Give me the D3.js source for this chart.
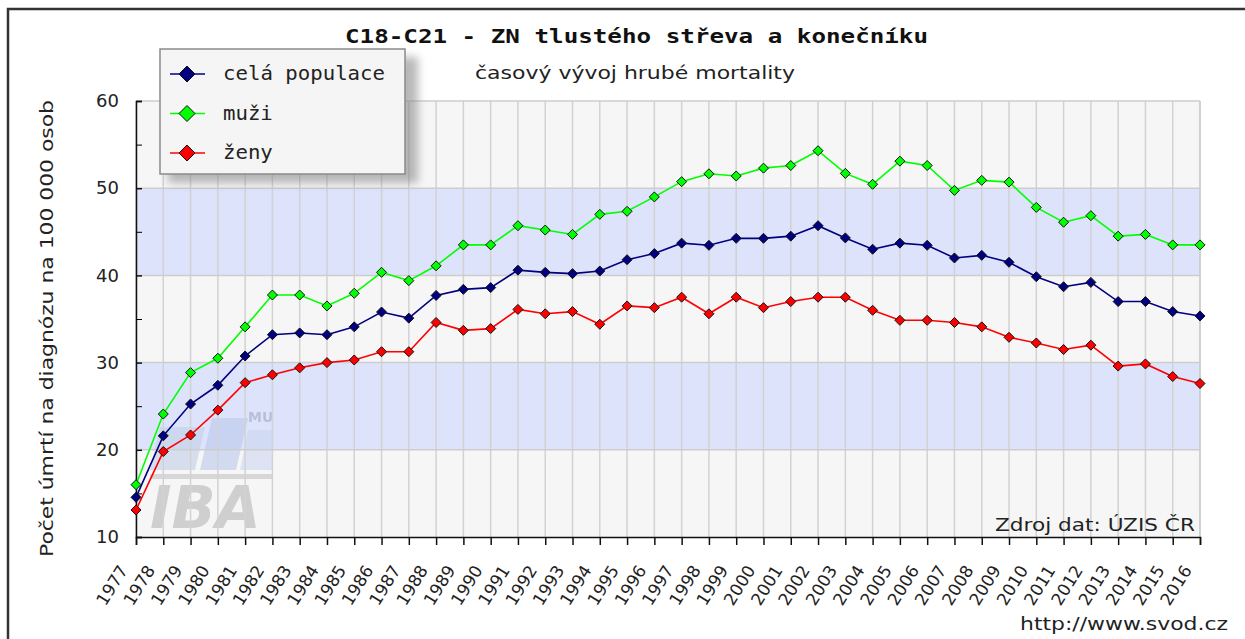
<!DOCTYPE html>
<html><head><meta charset="utf-8">
<script src="https://cdn.jsdelivr.net/npm/d3@7"></script>
<style>body{margin:0;background:#fff}svg{display:block}</style>
</head><body>
<svg id="c" width="1245" height="639"></svg>
<script>
const years = d3.range(1977, 2017);
const celaPopulace = [14.55,21.6,25.25,27.4,30.76,33.2,33.4,33.2,34.1,35.8,35.1,37.7,38.4,38.6,40.6,40.35,40.2,40.5,41.8,42.5,43.7,43.45,44.25,44.25,44.5,45.7,44.3,43.0,43.7,43.45,42.0,42.3,41.5,39.85,38.7,39.2,37.0,37.0,35.85,35.35];
const muzi = [16.0,24.1,28.85,30.5,34.1,37.75,37.75,36.5,37.95,40.35,39.4,41.1,43.5,43.5,45.7,45.2,44.7,47.0,47.35,49.0,50.75,51.65,51.4,52.3,52.6,54.3,51.7,50.45,53.1,52.6,49.75,50.9,50.7,47.8,46.1,46.85,44.5,44.7,43.5,43.5];
const zeny = [13.1,19.8,21.7,24.55,27.7,28.6,29.4,30.0,30.3,31.25,31.25,34.6,33.7,33.9,36.1,35.6,35.85,34.4,36.5,36.3,37.5,35.6,37.5,36.3,37.0,37.5,37.5,36.0,34.85,34.85,34.6,34.1,32.9,32.25,31.5,32.0,29.6,29.85,28.4,27.6];
const seriesNames = ["celá populace","muži","ženy"];
const seriesColors = ["#000080","#00ff00","#ff0000"];
const yTicks = [10,20,30,40,50,60];
const yMinorTicks = [15,25,35,45,55];
const bands = [[20,30],[40,50]];
const title = "C18-C21 - ZN tlustého střeva a konečníku";
const subtitle = "časový vývoj hrubé mortality";
const yLabel = "Počet úmrtí na diagnózu na 100 000 osob";
const source = "Zdroj dat: ÚZIS ČR";
const url = "http://www.svod.cz";

const series = [celaPopulace, muzi, zeny];
const svg = d3.select("#c");
const L=136, R=1200, T=101, B=537;
const x = d3.scaleLinear().domain([1977,2016]).range([L,R]);
const y = d3.scaleLinear().domain([10,60]).range([B,T]);
const sans = "'DejaVu Sans', sans-serif", mono = "'DejaVu Sans Mono', monospace";

// frame
svg.append("rect").attr("x",8).attr("y",9).attr("width",1260).attr("height",660)
  .attr("fill","#fff").attr("stroke","#333").attr("stroke-width",2.5);

// plot background
svg.append("rect").attr("x",L).attr("y",T).attr("width",R-L).attr("height",B-T).attr("fill","#f6f6f6");
bands.forEach(b=>svg.append("rect").attr("x",L).attr("y",y(b[1])).attr("width",R-L)
  .attr("height",y(b[0])-y(b[1])).attr("fill","#dce3fb"));

// watermark
const wm = svg.append("g").attr("opacity",0.9);
wm.append("polygon").attr("points","150,470 160,427 205,427 195,470").attr("fill","#c4d0ea").attr("opacity",0.7);
wm.append("polygon").attr("points","200,470 212,418 248,418 236,470").attr("fill","#bccbe9").attr("opacity",0.7);
wm.append("polygon").attr("points","240,470 248,430 272,430 272,470").attr("fill","#c8d3ee").attr("opacity",0.6);
wm.append("rect").attr("x",150).attr("y",474).attr("width",122).attr("height",5).attr("fill","#d4d4d4");
wm.append("text").attr("x",150).attr("y",528).text("IBA").attr("font-family",sans)
  .attr("font-weight","bold").attr("font-style","italic").attr("font-size",58).attr("fill","#cbcbcb");
wm.append("text").attr("x",248).attr("y",422).text("MU").attr("font-family",sans)
  .attr("font-weight","bold").attr("font-size",14).attr("fill","#b4bdd6");

// grid
svg.append("g").selectAll("line").data(years).join("line")
  .attr("x1",d=>x(d)).attr("x2",d=>x(d)).attr("y1",T).attr("y2",B)
  .attr("stroke","#d2d2d2").attr("stroke-width",1.5);
svg.append("g").selectAll("line").data(yTicks.slice(1)).join("line")
  .attr("x1",L).attr("x2",R).attr("y1",d=>y(d)).attr("y2",d=>y(d))
  .attr("stroke","#cdcdcd").attr("stroke-width",1.5);
svg.append("line").attr("x1",R).attr("x2",R).attr("y1",T).attr("y2",B).attr("stroke","#cdcdcd").attr("stroke-width",1.5);

// axes
const ya = svg.append("g").attr("transform",`translate(${L},0)`)
  .call(d3.axisLeft(y).tickValues(yTicks).tickSize(-6).tickPadding(17).tickFormat(d3.format("d")));
svg.append("g").attr("transform",`translate(${L},0)`)
  .call(d3.axisLeft(y).tickValues(yMinorTicks).tickSize(-6).tickFormat(""))
  .select(".domain").remove();
ya.selectAll("text").attr("font-family",sans).attr("font-size",18).attr("fill","#222");
ya.selectAll("line,path").attr("stroke","#111").attr("stroke-width",1.5);

const xa = svg.append("g").attr("transform",`translate(0,${B})`)
  .call(d3.axisBottom(x).tickValues(years).tickSize(8).tickFormat(d3.format("d")));
xa.selectAll("line,path").attr("stroke","#111").attr("stroke-width",1.5);
xa.selectAll("text").attr("font-family",sans).attr("font-size",17).attr("fill","#222")
  .attr("text-anchor","end").attr("dy",0).attr("y",0)
  .attr("transform","translate(-8,33) rotate(-58)");

// lines and markers
const lineGen = d3.line().x((d,i)=>x(years[i])).y(d=>y(d));
series.forEach((s,k)=>{
  svg.append("path").datum(s).attr("d",lineGen).attr("fill","none")
    .attr("stroke",seriesColors[k]).attr("stroke-width",1.6);
});
series.forEach((s,k)=>{
  svg.append("g").selectAll("path").data(s).join("path")
    .attr("transform",(d,i)=>`translate(${x(years[i])},${y(d)})`)
    .attr("d","M0,-5L5,0L0,5L-5,0Z").attr("fill",seriesColors[k])
    .attr("stroke","#111").attr("stroke-width",1);
});

// titles
svg.append("text").attr("x",345).attr("y",43).text(title).attr("font-family",mono)
  .attr("font-weight","bold").attr("font-size",20).attr("textLength",583)
  .attr("lengthAdjust","spacingAndGlyphs").attr("fill","#111");
svg.append("text").attr("x",475).attr("y",79).text(subtitle).attr("font-family",sans)
  .attr("font-size",18).attr("textLength",320).attr("lengthAdjust","spacingAndGlyphs").attr("fill","#222");
svg.append("text").attr("transform","translate(53,557) rotate(-90)").text(yLabel)
  .attr("font-family",sans).attr("font-size",18).attr("textLength",457).attr("lengthAdjust","spacingAndGlyphs").attr("fill","#222");
svg.append("text").attr("x",995).attr("y",531).text(source).attr("font-family",sans)
  .attr("font-size",18).attr("textLength",200).attr("lengthAdjust","spacingAndGlyphs").attr("fill","#222");
svg.append("text").attr("x",1020).attr("y",630).text(url).attr("font-family",sans)
  .attr("font-size",18).attr("textLength",208).attr("lengthAdjust","spacingAndGlyphs").attr("fill","#222");

// legend
const defs = svg.append("defs");
defs.append("filter").attr("id","blur").append("feGaussianBlur").attr("stdDeviation",4);
svg.append("rect").attr("x",168).attr("y",57).attr("width",250).attr("height",126)
  .attr("fill","#8a8a8a").attr("opacity",0.6).attr("filter","url(#blur)");
svg.append("rect").attr("x",160).attr("y",49).attr("width",245).attr("height",125)
  .attr("fill","#f5f5f5").attr("stroke","#8a8a8a").attr("stroke-width",1.5);
const lg = svg.append("g").selectAll("g").data(seriesNames).join("g")
  .attr("transform",(d,i)=>`translate(0,${74+i*39.5})`);
lg.append("line").attr("x1",170).attr("x2",205).attr("stroke",(d,i)=>seriesColors[i]).attr("stroke-width",1.6);
lg.append("path").attr("transform","translate(187,0)").attr("d","M0,-8L8,0L0,8L-8,0Z")
  .attr("fill",(d,i)=>seriesColors[i]).attr("stroke","#111").attr("stroke-width",1);
lg.append("text").attr("x",223).attr("y",6).text(d=>d).attr("font-family",mono)
  .attr("font-size",19).attr("fill","#222")
  .attr("textLength",d=>d.length*12.46).attr("lengthAdjust","spacingAndGlyphs");
</script>
</body></html>
